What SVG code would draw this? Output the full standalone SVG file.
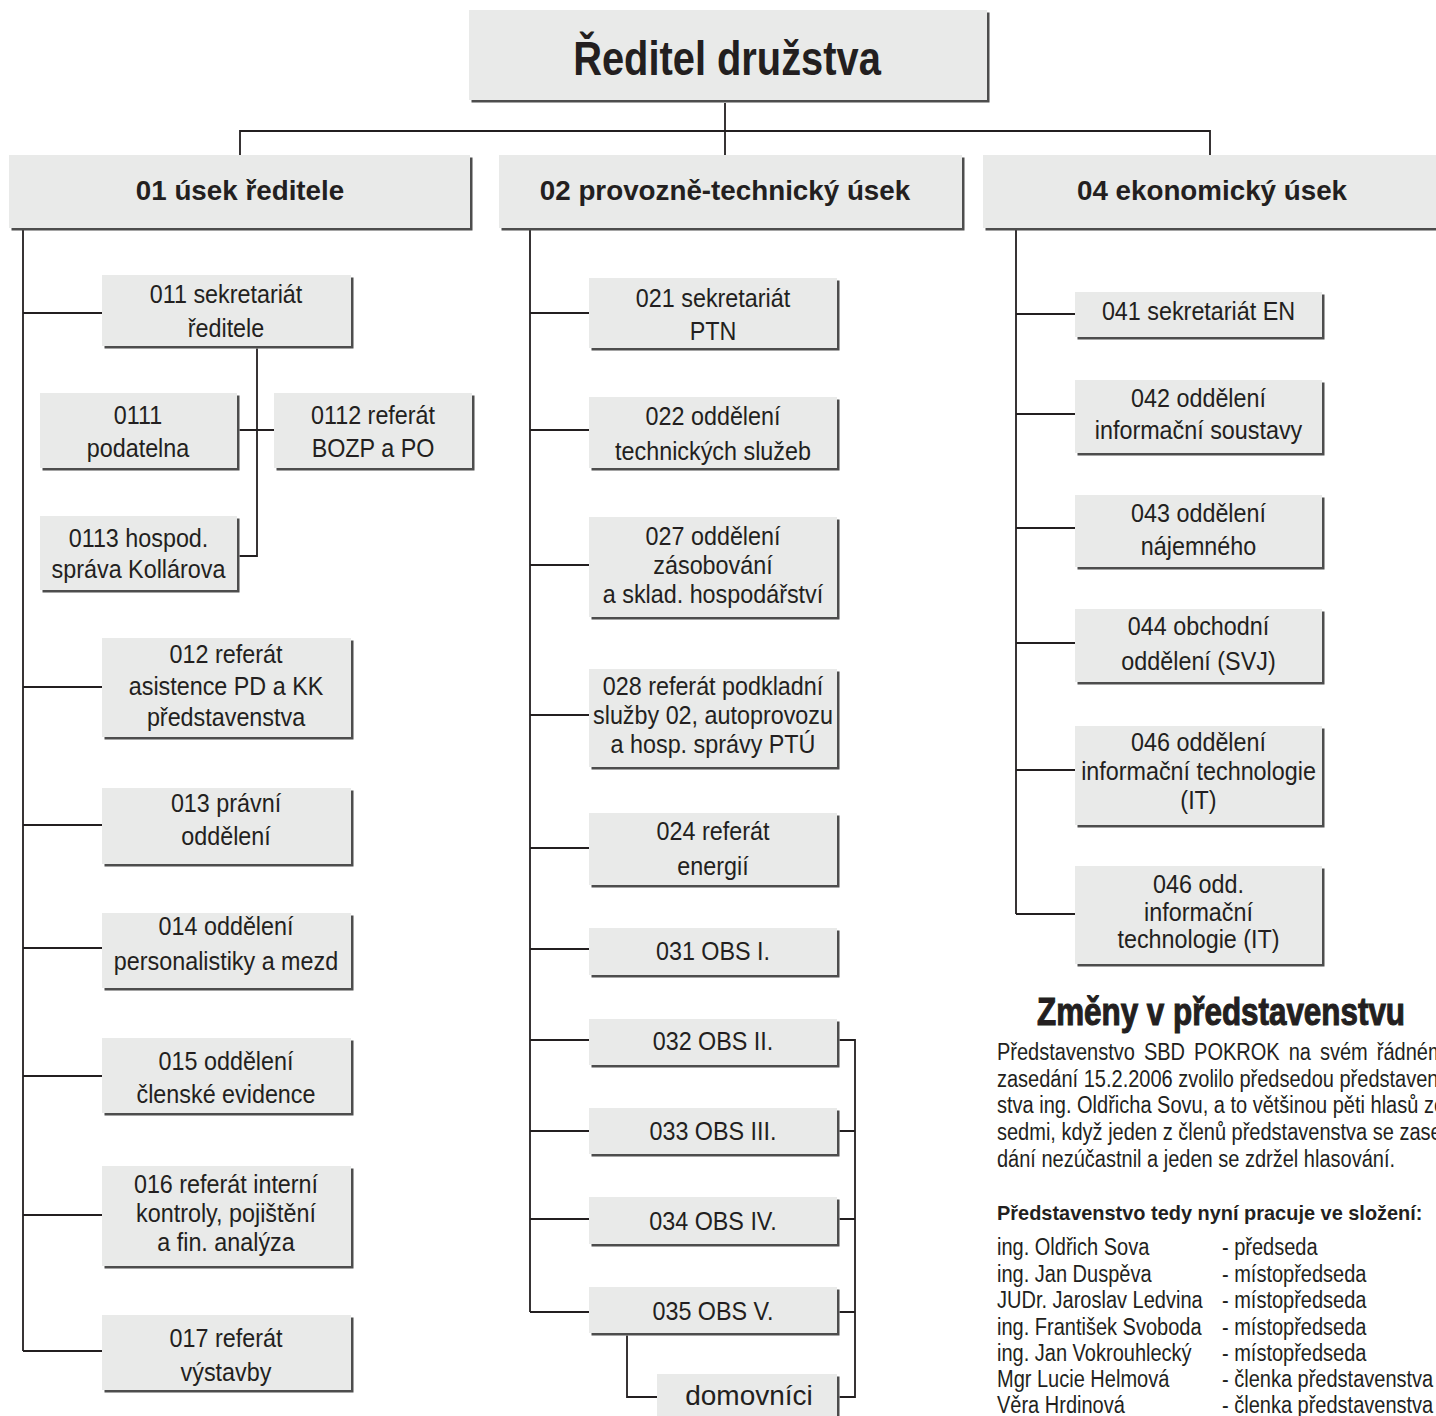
<svg xmlns="http://www.w3.org/2000/svg" width="1436" height="1416" viewBox="0 0 1436 1416">
<style>
.bg{fill:#ffffff}
.b{fill:#e9eae9}
.s{fill:#4d4d4d}
.c{fill:none;stroke:#231f20;stroke-width:1.8}
.t{font-family:"Liberation Sans",Arial,Helvetica,sans-serif;font-size:25.5px;fill:#231f20;text-anchor:middle}
.h{font-weight:bold;font-size:28.5px}
.ti{font-weight:bold;font-size:48px}
.dm{font-size:28px}
.p{font-family:"Liberation Sans",Arial,Helvetica,sans-serif;font-size:23px;fill:#231f20}
.pb{font-weight:bold;font-size:21px}
.zm{font-family:"Liberation Sans",Arial,Helvetica,sans-serif;font-weight:bold;font-size:39px;fill:#231f20;stroke:#231f20;stroke-width:1.1;text-anchor:middle}
</style>
<rect class="bg" x="0" y="0" width="1436" height="1416"/>

<g id="connectors" class="c">
<path d="M725 103V155M240 155V131H1210V155"/>
<path d="M23 230V1351M23 313H102M23 687H102M23 825H102M23 948H102M23 1076H102M23 1215H102M23 1351H102"/>
<path d="M257 348.5V556H239.5M239.5 430H274"/>
<path d="M530 230V1312M530 313H589M530 430H589M530 565H589M530 715H589M530 848H589M530 949H589M530 1040H589M530 1131H589M530 1219H589M530 1312H589"/>
<path d="M839.5 1040H855V1397H839.5M839.5 1131H855M839.5 1219H855M839.5 1312H855"/>
<path d="M627 1335.5V1397H657"/>
<path d="M1016 230V914M1016 314H1075M1016 414H1075M1016 528H1075M1016 643H1075M1016 770H1075M1016 914H1075"/>
</g>

<g id="n-reditel">
<rect class="s" x="471.5" y="12.5" width="518" height="90"/>
<rect class="b" x="469" y="10" width="518" height="90"/>
<text class="t ti" transform="translate(727 0) scale(.83 1)"><tspan x="0" y="75">Ředitel družstva</tspan></text>
</g>

<g id="n-01">
<rect class="s" x="11.5" y="157.5" width="461" height="73"/>
<rect class="b" x="9" y="155" width="461" height="73"/>
<text class="t h" transform="translate(240 0) scale(.975 1)"><tspan x="0" y="200">01 úsek ředitele</tspan></text>
</g>
<g id="n-02">
<rect class="s" x="501.5" y="157.5" width="463" height="73"/>
<rect class="b" x="499" y="155" width="463" height="73"/>
<text class="t h" transform="translate(725 0) scale(.975 1)"><tspan x="0" y="200">02 provozně-technický úsek</tspan></text>
</g>
<g id="n-04">
<rect class="s" x="985.5" y="157.5" width="460" height="73"/>
<rect class="b" x="983" y="155" width="460" height="73"/>
<text class="t h" transform="translate(1212 0) scale(.975 1)"><tspan x="0" y="200">04 ekonomický úsek</tspan></text>
</g>

<g id="n-011">
<rect class="s" x="104.5" y="277.5" width="249" height="71"/>
<rect class="b" x="102" y="275" width="249" height="71"/>
<text class="t" transform="translate(226 0) scale(.915 1)"><tspan x="0" y="303">011 sekretariát</tspan><tspan x="0" y="337">ředitele</tspan></text>
</g>
<g id="n-0111">
<rect class="s" x="42.5" y="395.5" width="197" height="75"/>
<rect class="b" x="40" y="393" width="197" height="75"/>
<text class="t" transform="translate(138 0) scale(.915 1)"><tspan x="0" y="424">0111</tspan><tspan x="0" y="457">podatelna</tspan></text>
</g>
<g id="n-0112">
<rect class="s" x="276.5" y="395.5" width="198" height="75"/>
<rect class="b" x="274" y="393" width="198" height="75"/>
<text class="t" transform="translate(373 0) scale(.915 1)"><tspan x="0" y="424">0112 referát</tspan><tspan x="0" y="457">BOZP a PO</tspan></text>
</g>
<g id="n-0113">
<rect class="s" x="42.5" y="518.5" width="197" height="74"/>
<rect class="b" x="40" y="516" width="197" height="74"/>
<text class="t" transform="translate(138.5 0) scale(.915 1)"><tspan x="0" y="547">0113 hospod.</tspan><tspan x="0" y="578">správa Kollárova</tspan></text>
</g>
<g id="n-012">
<rect class="s" x="104.5" y="640.5" width="249" height="99"/>
<rect class="b" x="102" y="638" width="249" height="99"/>
<text class="t" transform="translate(226 0) scale(.915 1)"><tspan x="0" y="663">012 referát</tspan><tspan x="0" y="695">asistence PD a KK</tspan><tspan x="0" y="726">představenstva</tspan></text>
</g>
<g id="n-013">
<rect class="s" x="104.5" y="790.5" width="249" height="76"/>
<rect class="b" x="102" y="788" width="249" height="76"/>
<text class="t" transform="translate(226 0) scale(.915 1)"><tspan x="0" y="812">013 právní</tspan><tspan x="0" y="845">oddělení</tspan></text>
</g>
<g id="n-014">
<rect class="s" x="104.5" y="915.5" width="249" height="75"/>
<rect class="b" x="102" y="913" width="249" height="75"/>
<text class="t" transform="translate(226 0) scale(.915 1)"><tspan x="0" y="935">014 oddělení</tspan><tspan x="0" y="970">personalistiky a mezd</tspan></text>
</g>
<g id="n-015">
<rect class="s" x="104.5" y="1040.5" width="249" height="75"/>
<rect class="b" x="102" y="1038" width="249" height="75"/>
<text class="t" transform="translate(226 0) scale(.915 1)"><tspan x="0" y="1070">015 oddělení</tspan><tspan x="0" y="1103">členské evidence</tspan></text>
</g>
<g id="n-016">
<rect class="s" x="104.5" y="1168.5" width="249" height="100"/>
<rect class="b" x="102" y="1166" width="249" height="100"/>
<text class="t" transform="translate(226 0) scale(.915 1)"><tspan x="0" y="1193">016 referát interní</tspan><tspan x="0" y="1222">kontroly, pojištění</tspan><tspan x="0" y="1251">a fin. analýza</tspan></text>
</g>
<g id="n-017">
<rect class="s" x="104.5" y="1317.5" width="249" height="75"/>
<rect class="b" x="102" y="1315" width="249" height="75"/>
<text class="t" transform="translate(226 0) scale(.915 1)"><tspan x="0" y="1347">017 referát</tspan><tspan x="0" y="1381">výstavby</tspan></text>
</g>

<g id="n-021">
<rect class="s" x="591.5" y="280.5" width="248" height="70"/>
<rect class="b" x="589" y="278" width="248" height="70"/>
<text class="t" transform="translate(713 0) scale(.915 1)"><tspan x="0" y="307">021 sekretariát</tspan><tspan x="0" y="340">PTN</tspan></text>
</g>
<g id="n-022">
<rect class="s" x="591.5" y="399.5" width="248" height="71"/>
<rect class="b" x="589" y="397" width="248" height="71"/>
<text class="t" transform="translate(713 0) scale(.915 1)"><tspan x="0" y="425">022 oddělení</tspan><tspan x="0" y="460">technických služeb</tspan></text>
</g>
<g id="n-027">
<rect class="s" x="591.5" y="519.5" width="248" height="100"/>
<rect class="b" x="589" y="517" width="248" height="100"/>
<text class="t" transform="translate(713 0) scale(.915 1)"><tspan x="0" y="545">027 oddělení</tspan><tspan x="0" y="574">zásobování</tspan><tspan x="0" y="603">a sklad. hospodářství</tspan></text>
</g>
<g id="n-028">
<rect class="s" x="591.5" y="671.5" width="248" height="98"/>
<rect class="b" x="589" y="669" width="248" height="98"/>
<text class="t" transform="translate(713 0) scale(.915 1)"><tspan x="0" y="695">028 referát podkladní</tspan><tspan x="0" y="724">služby 02, autoprovozu</tspan><tspan x="0" y="753">a hosp. správy PTÚ</tspan></text>
</g>
<g id="n-024">
<rect class="s" x="591.5" y="815.5" width="248" height="72"/>
<rect class="b" x="589" y="813" width="248" height="72"/>
<text class="t" transform="translate(713 0) scale(.915 1)"><tspan x="0" y="840">024 referát</tspan><tspan x="0" y="875">energií</tspan></text>
</g>
<g id="n-031">
<rect class="s" x="591.5" y="930.5" width="248" height="47"/>
<rect class="b" x="589" y="928" width="248" height="47"/>
<text class="t" transform="translate(713 0) scale(.915 1)"><tspan x="0" y="960">031 OBS I.</tspan></text>
</g>
<g id="n-032">
<rect class="s" x="591.5" y="1021.5" width="248" height="46"/>
<rect class="b" x="589" y="1019" width="248" height="46"/>
<text class="t" transform="translate(713 0) scale(.915 1)"><tspan x="0" y="1050">032 OBS II.</tspan></text>
</g>
<g id="n-033">
<rect class="s" x="591.5" y="1110.5" width="248" height="46"/>
<rect class="b" x="589" y="1108" width="248" height="46"/>
<text class="t" transform="translate(713 0) scale(.915 1)"><tspan x="0" y="1140">033 OBS III.</tspan></text>
</g>
<g id="n-034">
<rect class="s" x="591.5" y="1199.5" width="248" height="47"/>
<rect class="b" x="589" y="1197" width="248" height="47"/>
<text class="t" transform="translate(713 0) scale(.915 1)"><tspan x="0" y="1230">034 OBS IV.</tspan></text>
</g>
<g id="n-035">
<rect class="s" x="591.5" y="1289.5" width="248" height="46"/>
<rect class="b" x="589" y="1287" width="248" height="46"/>
<text class="t" transform="translate(713 0) scale(.915 1)"><tspan x="0" y="1320">035 OBS V.</tspan></text>
</g>
<g id="n-domovnici">
<rect class="s" x="659.5" y="1376.5" width="180" height="50"/>
<rect class="b" x="657" y="1374" width="180" height="50"/>
<text class="t dm" transform="translate(749 0)"><tspan x="0" y="1405">domovníci</tspan></text>
</g>

<g id="n-041">
<rect class="s" x="1077.5" y="294.5" width="247" height="45"/>
<rect class="b" x="1075" y="292" width="247" height="45"/>
<text class="t" transform="translate(1198.5 0) scale(.915 1)"><tspan x="0" y="320">041 sekretariát EN</tspan></text>
</g>
<g id="n-042">
<rect class="s" x="1077.5" y="382.5" width="247" height="73"/>
<rect class="b" x="1075" y="380" width="247" height="73"/>
<text class="t" transform="translate(1198.5 0) scale(.915 1)"><tspan x="0" y="407">042 oddělení</tspan><tspan x="0" y="439">informační soustavy</tspan></text>
</g>
<g id="n-043">
<rect class="s" x="1077.5" y="497.5" width="247" height="72"/>
<rect class="b" x="1075" y="495" width="247" height="72"/>
<text class="t" transform="translate(1198.5 0) scale(.915 1)"><tspan x="0" y="522">043 oddělení</tspan><tspan x="0" y="555">nájemného</tspan></text>
</g>
<g id="n-044">
<rect class="s" x="1077.5" y="611.5" width="247" height="73"/>
<rect class="b" x="1075" y="609" width="247" height="73"/>
<text class="t" transform="translate(1198.5 0) scale(.915 1)"><tspan x="0" y="635">044 obchodní</tspan><tspan x="0" y="670">oddělení (SVJ)</tspan></text>
</g>
<g id="n-046a">
<rect class="s" x="1077.5" y="728.5" width="247" height="99"/>
<rect class="b" x="1075" y="726" width="247" height="99"/>
<text class="t" transform="translate(1198.5 0) scale(.915 1)"><tspan x="0" y="751">046 oddělení</tspan><tspan x="0" y="780">informační technologie</tspan><tspan x="0" y="809">(IT)</tspan></text>
</g>
<g id="n-046b">
<rect class="s" x="1077.5" y="868.5" width="247" height="98"/>
<rect class="b" x="1075" y="866" width="247" height="98"/>
<text class="t" transform="translate(1198.5 0) scale(.915 1)"><tspan x="0" y="893">046 odd.</tspan><tspan x="0" y="921">informační</tspan><tspan x="0" y="948">technologie (IT)</tspan></text>
</g>

<g id="article">
<text class="zm" transform="translate(1221 0) scale(.805 1)"><tspan x="0" y="1025">Změny v představenstvu</tspan></text>
<g transform="translate(997 0) scale(.87 1)">
<text class="p" x="0" y="1060" word-spacing="4">Představenstvo SBD POKROK na svém řádném</text>
<text class="p" x="0" y="1087">zasedání 15.2.2006 zvolilo předsedou představen-</text>
<text class="p" x="0" y="1113.5">stva ing. Oldřicha Sovu, a to většinou pěti hlasů ze</text>
<text class="p" x="0" y="1140">sedmi, když jeden z členů představenstva se zase-</text>
<text class="p" x="0" y="1167">dání nezúčastnil a jeden se zdržel hlasování.</text>
</g>
<text class="p pb" transform="translate(997 0) scale(.95 1)" x="0" y="1220">Představenstvo tedy nyní pracuje ve složení:</text>
<g transform="translate(997 0) scale(.87 1)">
<text class="p" x="0" y="1255">ing. Oldřich Sova</text>
<text class="p" x="0" y="1282">ing. Jan Duspěva</text>
<text class="p" x="0" y="1308">JUDr. Jaroslav Ledvina</text>
<text class="p" x="0" y="1335">ing. František Svoboda</text>
<text class="p" x="0" y="1361">ing. Jan Vokrouhlecký</text>
<text class="p" x="0" y="1387">Mgr Lucie Helmová</text>
<text class="p" x="0" y="1413">Věra Hrdinová</text>
<text class="p" x="258.6" y="1255">- předseda</text>
<text class="p" x="258.6" y="1282">- místopředseda</text>
<text class="p" x="258.6" y="1308">- místopředseda</text>
<text class="p" x="258.6" y="1335">- místopředseda</text>
<text class="p" x="258.6" y="1361">- místopředseda</text>
<text class="p" x="258.6" y="1387">- členka představenstva</text>
<text class="p" x="258.6" y="1413">- členka představenstva</text>
</g>
</g>
</svg>
